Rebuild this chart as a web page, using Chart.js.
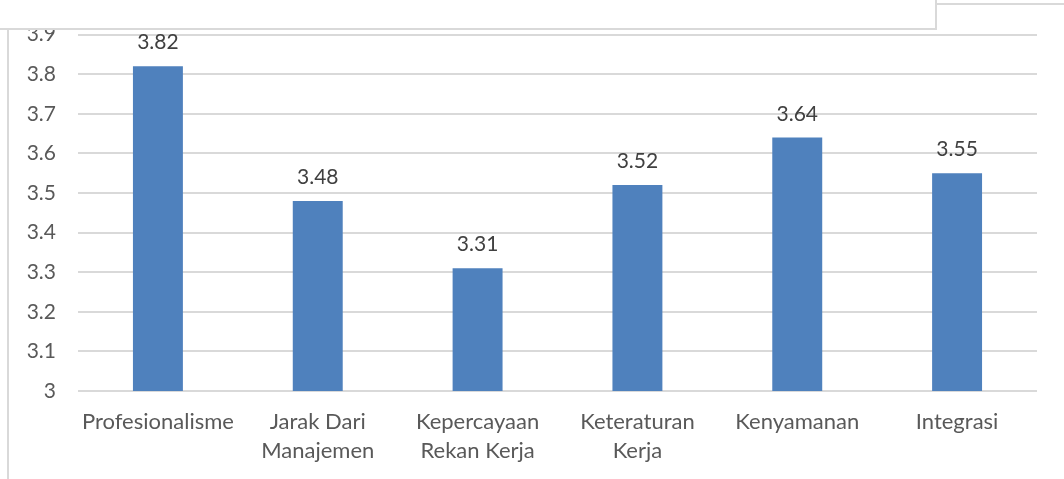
<!DOCTYPE html>
<html>
<head>
<meta charset="utf-8">
<script src="https://cdn.jsdelivr.net/npm/chart.js@4.4.1/dist/chart.umd.min.js"></script>
<style>
  html, body { margin: 0; padding: 0; background: #fff; }
  #wrap { position: relative; width: 1064px; height: 479px; overflow: hidden; background: #fff; }
  #c { position: absolute; left: 0; top: 0; }
  /* frame pieces around the chart */
  #cover { position: absolute; left: 0; top: 0; width: 935px; height: 28px; background: #fff;
           border-right: 2px solid #d9d9d9; border-bottom: 2px solid #d9d9d9; }
  #topRule { position: absolute; left: 936px; top: 3px; width: 128px; height: 2px; background: #d9d9d9; }
  #leftRule { position: absolute; left: 7px; top: 29px; width: 2px; height: 450px; background: #d9d9d9; }
</style>
</head>
<body>
<div id="wrap">
  <canvas id="c" width="1064" height="479"></canvas>
  <div id="cover"></div>
  <div id="topRule"></div>
  <div id="leftRule"></div>
</div>
<script>
// Mean score per dimension
const categories = [
  'Profesionalisme',
  ['Jarak Dari', 'Manajemen'],
  ['Kepercayaan', 'Rekan Kerja'],
  ['Keteraturan', 'Kerja'],
  'Kenyamanan',
  'Integrasi'
];
const scores = [3.82, 3.48, 3.31, 3.52, 3.64, 3.55];
const yTicks = [3, 3.1, 3.2, 3.3, 3.4, 3.5, 3.6, 3.7, 3.8, 3.9];

const FONT = 'Lato, "Noto Sans", sans-serif';

// Writes each bar's value just above it
const valueLabels = {
  id: 'valueLabels',
  afterDatasetsDraw(chart) {
    const ctx = chart.ctx;
    const meta = chart.getDatasetMeta(0);
    ctx.save();
    ctx.font = '21px ' + FONT;
    ctx.fillStyle = '#404040';
    ctx.textAlign = 'center';
    ctx.textBaseline = 'alphabetic';
    meta.data.forEach((bar, i) => {
      ctx.fillText(scores[i].toFixed(2), bar.x, bar.y - 17);
    });
    ctx.restore();
  }
};

new Chart(document.getElementById('c'), {
  type: 'bar',
  data: {
    labels: categories,
    datasets: [{
      data: scores,
      backgroundColor: '#4f81bd',
      borderWidth: 0,
      categoryPercentage: 1,
      barPercentage: 0.3125
    }]
  },
  options: {
    responsive: false,
    animation: false,
    events: [],
    layout: { padding: { left: 0, right: 27, top: 34, bottom: 0 } },
    plugins: { legend: { display: false }, tooltip: { enabled: false } },
    scales: {
      x: {
        grid: { display: false },
        border: { display: false },
        ticks: {
          color: '#595959',
          font: { family: FONT, size: 22, lineHeight: 1.32 },
          padding: 8,
          maxRotation: 0,
          autoSkip: false
        },
        afterFit(scale) { scale.height = 88; }
      },
      y: {
        min: 3,
        max: 3.9,
        border: { display: false },
        grid: { color: '#d9d9d9', lineWidth: 2, drawTicks: false },
        afterBuildTicks(scale) { scale.ticks = yTicks.map(v => ({ value: v })); },
        ticks: {
          color: '#595959',
          font: { family: FONT, size: 21 },
          padding: 22,
          callback: v => String(Math.round(v * 10) / 10)
        },
        afterFit(scale) { scale.width = 78; }
      }
    }
  },
  plugins: [valueLabels]
});
</script>
</body>
</html>
